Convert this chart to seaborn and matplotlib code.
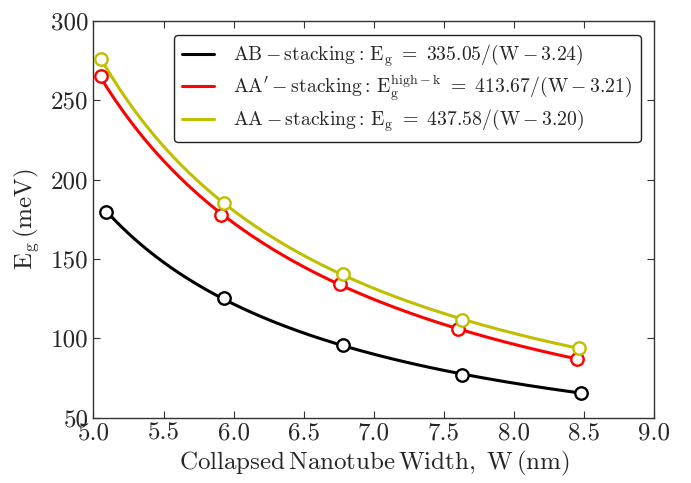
import numpy as np
import pandas as pd
import matplotlib
matplotlib.use("Agg")
import matplotlib.pyplot as plt
import seaborn as sns

# ---- data ----
W_AB = [5.09, 5.93, 6.78, 7.63, 8.48]
E_AB = [179.3, 125.4, 95.5, 77.1, 65.6]
W_AAp = [5.05, 5.91, 6.76, 7.60, 8.45]
E_AAp = [264.9, 177.8, 134.2, 105.8, 87.0]
W_AA = [5.05, 5.93, 6.78, 7.63, 8.46]
E_AA = [275.9, 185.2, 140.7, 111.3, 93.9]

labels = [
    r"$\mathrm{AB-stacking{:}\,E_g\ =\ 335.05/(W-3.24)}$",
    r"$\mathrm{AA'-stacking{:}\,E_g^{high-k}\ =\ 413.67/(W-3.21)}$",
    r"$\mathrm{AA-stacking{:}\,E_g\ =\ 437.58/(W-3.20)}$",
]
colors = ["black", "#ff0000", "#bfbf00"]
x_ticks = [5.0, 5.5, 6.0, 6.5, 7.0, 7.5, 8.0, 8.5, 9.0]
y_ticks = [50, 100, 150, 200, 250, 300]

sns.set_style("ticks")
plt.rcParams.update({
    "font.family": ["cmr10", "DejaVu Serif"],
    "mathtext.fontset": "cm",
    "axes.formatter.use_mathtext": True,
    "axes.unicode_minus": False,
    "axes.edgecolor": "#333333",
    "axes.linewidth": 1.0,
})

fig = plt.figure(figsize=(6.91, 4.83), dpi=100)
ax = fig.add_axes([0.1353, 0.1352, 0.947 - 0.1353, 0.957 - 0.1352])

series = [(W_AB, E_AB), (W_AAp, E_AAp), (W_AA, E_AA)]
for (W, E), lab, c in zip(series, labels, colors):
    W = np.asarray(W); E = np.asarray(E)
    # smooth fitted curve: fit 1/E as polynomial in W
    coef = np.polyfit(W, 1.0 / E, 2)
    Wf = np.linspace(W.min(), W.max(), 200)
    Ef = 1.0 / np.polyval(coef, Wf)
    df = pd.DataFrame({"W": Wf, "E": Ef})
    sns.lineplot(data=df, x="W", y="E", color=c, lw=2.2, label=lab, ax=ax, zorder=2)
    sns.scatterplot(x=W, y=E, ax=ax, s=80, facecolor="white", edgecolor=c,
                    linewidth=1.7, zorder=3)

ax.set_xlim(5.0, 9.0)
ax.set_ylim(50, 300)
ax.set_xticks(x_ticks)
ax.set_yticks(y_ticks)
ax.set_xticklabels([f"{t:.1f}" for t in x_ticks])
ax.set_yticklabels([f"{t}" for t in y_ticks])
ax.tick_params(direction="in", length=5, width=0.8, labelsize=18,
               top=True, right=True, color="#333333")
ax.set_xlabel(r"$\mathrm{Collapsed\,Nanotube\,Width,\ W\,(nm)}$", fontsize=18, labelpad=3)
ax.set_ylabel(r"$\mathrm{E_g\,(meV)}$", fontsize=18, labelpad=7)

leg = ax.legend(loc="upper right", fontsize=14.2, handlelength=1.6, frameon=True,
                fancybox=True, framealpha=1, edgecolor="#222222",
                borderaxespad=0.7, labelspacing=0.22, handletextpad=1.0)
leg.get_frame().set_linewidth(1.0)

fig.savefig("out.png", dpi=100)
